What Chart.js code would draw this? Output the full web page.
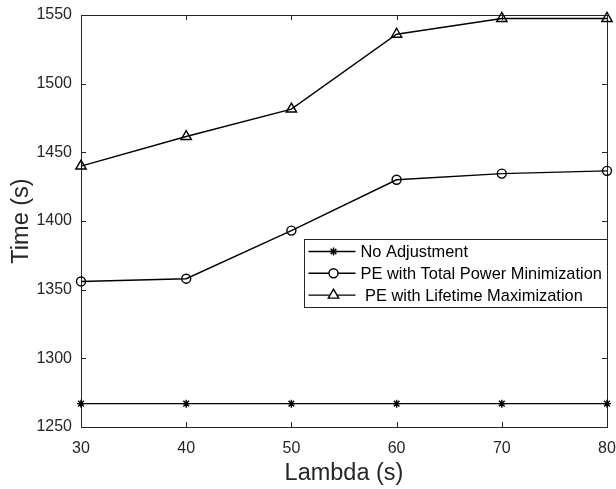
<!DOCTYPE html>
<html>
<head>
<meta charset="utf-8">
<script src="https://cdn.jsdelivr.net/npm/chart.js@4.4.1/dist/chart.umd.min.js"></script>
<style>
  html, body { margin: 0; padding: 0; background: #fff; }
</style>
</head>
<body>
<canvas id="chart" width="616" height="489"></canvas>
<script>
// values
const lambdas = [30, 40, 50, 60, 70, 80];
const noAdjustment = [1267, 1267, 1267, 1267, 1267, 1267];
const totalPowerMin = [1356, 1358, 1393, 1430, 1434.5, 1436.5];
const lifetimeMax = [1440, 1461.5, 1481.5, 1536, 1547.5, 1547.5];
const seriesNames = ['No Adjustment', 'PE with Total Power Minimization', ' PE with Lifetime Maximization'];
const xTicks = [30, 40, 50, 60, 70, 80];
const yTicks = [1250, 1300, 1350, 1400, 1450, 1500, 1550];

const FONT = "'Liberation Sans', Arial, Helvetica, sans-serif";
const AXIS = '#262626';

const toPoints = (vals) => lambdas.map((x, i) => ({ x, y: vals[i] }));

const makeSet = (label, vals, style, radius) => ({
  label,
  data: toPoints(vals),
  borderColor: '#000',
  borderWidth: 1.4,
  pointStyle: style,
  pointRadius: radius,
  pointBorderWidth: 1.4,
  pointBorderColor: '#000',
  pointBackgroundColor: 'rgba(0,0,0,0)',
  tension: 0,
  clip: false,
});

// box, inward ticks and the legend, MATLAB style
const framePlugin = {
  id: 'frame',
  beforeDatasetsDraw(chart) {
    const { ctx, chartArea: a, scales: { x, y } } = chart;
    ctx.save();
    ctx.strokeStyle = AXIS;
    ctx.lineWidth = 1;
    ctx.strokeRect(Math.round(a.left) + 0.5, Math.round(a.top) + 0.5,
      Math.round(a.right - a.left), Math.round(a.bottom - a.top));
    ctx.beginPath();
    xTicks.forEach(v => {
      const px = Math.round(x.getPixelForValue(v)) + 0.5;
      ctx.moveTo(px, a.bottom); ctx.lineTo(px, a.bottom - 5);
      ctx.moveTo(px, a.top); ctx.lineTo(px, a.top + 5);
    });
    yTicks.forEach(v => {
      const py = Math.round(y.getPixelForValue(v)) + 0.5;
      ctx.moveTo(a.left, py); ctx.lineTo(a.left + 5, py);
      ctx.moveTo(a.right, py); ctx.lineTo(a.right - 5, py);
    });
    ctx.stroke();
    ctx.restore();
  },
  afterDatasetsDraw(chart) {
    const { ctx, chartArea: a } = chart;
    const left = Math.round(a.right - 303) + 0.5;
    const top = Math.round(a.top + 224) + 0.5;
    ctx.save();
    ctx.fillStyle = '#fff';
    ctx.fillRect(left, top, 303, 68);
    ctx.strokeStyle = AXIS;
    ctx.lineWidth = 1;
    ctx.strokeRect(left, top, 303, 68);
    ctx.font = '16.4px ' + FONT;
    ctx.textBaseline = 'middle';
    ctx.textAlign = 'left';
    chart.data.datasets.forEach((ds, i) => {
      const rowY = top + 12 + i * 21.8;
      ctx.strokeStyle = '#000';
      ctx.lineWidth = 1.4;
      ctx.beginPath();
      ctx.moveTo(left + 4, rowY);
      ctx.lineTo(left + 51, rowY);
      ctx.stroke();
      ctx.fillStyle = '#fff';
      Chart.helpers.drawPoint(ctx, {
        pointStyle: ds.pointStyle, radius: ds.pointRadius,
        borderWidth: ds.pointBorderWidth, rotation: 0,
      }, left + 29, rowY);
      ctx.fillStyle = '#000';
      ctx.fillText(ds.label, left + 56, rowY + 1);
    });
    ctx.restore();
  },
};

new Chart(document.getElementById('chart'), {
  type: 'line',
  data: {
    datasets: [
      makeSet(seriesNames[0], noAdjustment, 'star', 4),
      makeSet(seriesNames[1], totalPowerMin, 'circle', 4.5),
      makeSet(seriesNames[2], lifetimeMax, 'triangle', 6),
    ],
  },
  options: {
    responsive: false,
    animation: false,
    layout: { padding: { left: 0, top: 15, right: 9, bottom: 0 } },
    plugins: {
      legend: { display: false },
      tooltip: { enabled: false },
    },
    scales: {
      x: {
        type: 'linear',
        min: 30,
        max: 80,
        afterFit: (s) => { s.height = 62; s.paddingLeft = 0; s.paddingRight = 0; },
        afterBuildTicks: (s) => { s.ticks = xTicks.map(v => ({ value: v })); },
        grid: { display: false },
        border: { display: false },
        ticks: {
          color: AXIS, font: { family: FONT, size: 16 }, padding: 4, maxRotation: 0,
          callback: (v) => String(v),
        },
        title: {
          display: true, text: 'Lambda (s)', color: AXIS,
          font: { family: FONT, size: 23.5 }, padding: { top: 0, bottom: 1 },
        },
      },
      y: {
        min: 1250,
        max: 1550,
        afterFit: (s) => { s.width = 81; s.paddingTop = 0; s.paddingBottom = 0; },
        afterBuildTicks: (s) => { s.ticks = yTicks.map(v => ({ value: v })); },
        grid: { display: false },
        border: { display: false },
        ticks: {
          color: AXIS, font: { family: FONT, size: 16 }, padding: 1,
          callback: (v) => String(v),
        },
        title: {
          display: true, text: 'Time (s)', color: AXIS,
          font: { family: FONT, size: 23.5 }, padding: { top: 7, bottom: 0 },
        },
      },
    },
  },
  plugins: [framePlugin],
});
</script>
</body>
</html>
